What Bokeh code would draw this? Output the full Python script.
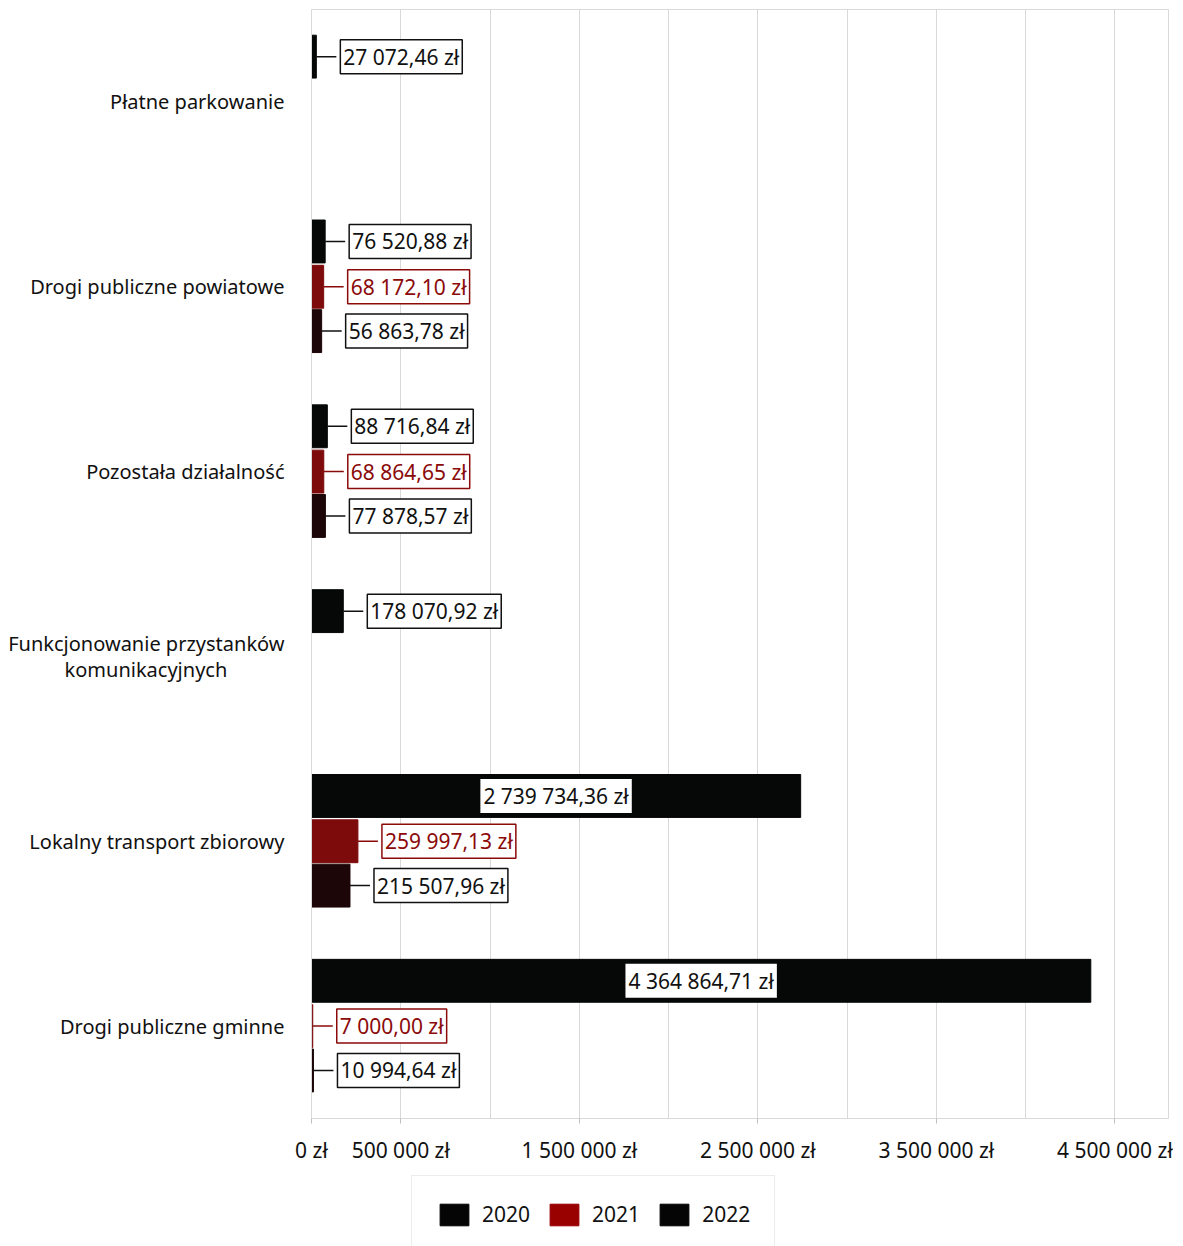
from bokeh.plotting import figure
from bokeh.layouts import column
from bokeh.models import ColumnDataSource, FactorRange, Range1d, FixedTicker, Legend, LegendItem
from bokeh.transform import dodge
from bokeh.core.properties import value
from bokeh.embed import file_html
from bokeh.resources import INLINE

# ---- data ----
NB = "\u00a0"
categories = [
    "Płatne parkowanie",
    "Drogi publiczne powiatowe",
    "Pozostała działalność",
    "Funkcjonowanie przystanków\nkomunikacyjnych" + NB * 11,
    "Lokalny transport zbiorowy",
    "Drogi publiczne gminne",
]
years = ["2020", "2021", "2022"]
values_2020 = [None, 56863.78, 77878.57, None, 215507.96, 10994.64]
values_2021 = [None, 68172.10, 68864.65, None, 259997.13, 7000.00]
values_2022 = [27072.46, 76520.88, 88716.84, 178070.92, 2739734.36, 4364864.71]
tick_values = [0, 500000, 1500000, 2500000, 3500000, 4500000]
tick_labels = ["0 zł", "500 000 zł", "1 500 000 zł", "2 500 000 zł", "3 500 000 zł", "4 500 000 zł"]
grid_values = [0, 500000, 1000000, 1500000, 2000000, 2500000, 3000000, 3500000, 4000000, 4500000]
x_max = 4800000

# ---- style ----
FONT = "Noto Sans"
bar_colors = {"2020": "#1c0607", "2021": "#7e0b0b", "2022": "#050806"}
legend_colors = {"2020": "#050505", "2021": "#990000", "2022": "#050505"}
text_colors = {"2020": "#111111", "2021": "#8b0a0a", "2022": "#111111"}
offsets = {"2020": -0.24, "2021": 0.0, "2022": 0.245}
bar_h = 0.232
frame_w = 857
frame_h = 1109
gap_px = 20
gap_data = gap_px * x_max / frame_w


def fmt(v):
    s = f"{v:,.2f}".replace(",", " ").replace(".", ",")
    return s + " zł"


p = figure(
    frame_width=frame_w, frame_height=frame_h,
    y_range=FactorRange(factors=list(reversed(categories))),
    x_range=Range1d(0, x_max),
    output_backend="svg", toolbar_location=None,
    min_border_left=311, min_border_right=5, min_border_top=9, min_border_bottom=0,
)
p.outline_line_color = "#d9d9d9"
p.ygrid.grid_line_color = None
p.xgrid.ticker = FixedTicker(ticks=grid_values)
p.xgrid.grid_line_color = "#d9d9d9"

xa = p.xaxis[0]
xa.ticker = FixedTicker(ticks=tick_values)
xa.major_label_overrides = {v: l for v, l in zip(tick_values, tick_labels)}
xa.major_label_text_font = FONT
xa.major_label_text_font_size = "21px"
xa.major_label_text_color = "#111111"
xa.axis_line_color = "#d9d9d9"
xa.major_tick_line_color = "#bfbfbf"
xa.major_tick_in = 0
xa.major_tick_out = 5
xa.minor_tick_line_color = None
xa.major_label_standoff = 12

ya = p.yaxis[0]
ya.major_label_text_font = FONT
ya.major_label_text_font_size = "20px"
ya.major_label_text_color = "#111111"
ya.major_label_text_line_height = 0.95
ya.axis_line_color = "#d9d9d9"
ya.major_tick_line_color = None
ya.minor_tick_line_color = None
ya.major_label_standoff = 21

series = {"2020": values_2020, "2021": values_2021, "2022": values_2022}
for yr in years:
    vals = series[yr]
    cats = [c for c, v in zip(categories, vals) if v is not None]
    vs = [v for v in vals if v is not None]
    src = ColumnDataSource(dict(cat=cats, v=vs))
    ydod = dodge("cat", offsets[yr], range=p.y_range)
    p.hbar(y=ydod, left=0, right="v", height=bar_h, source=src,
           fill_color=bar_colors[yr], line_color=bar_colors[yr])

    # outside labels (small bars) with leader lines
    out_c = [c for c, v in zip(cats, vs) if v < 1000000]
    out_v = [v for v in vs if v < 1000000]
    osrc = ColumnDataSource(dict(cat=out_c, v=out_v,
                                 lx=[v + gap_data for v in out_v],
                                 label=[fmt(v) for v in out_v]))
    p.segment(x0="v", y0=ydod, x1="lx", y1=ydod, source=osrc,
              line_color=text_colors[yr], line_width=1.5)
    p.text(x="lx", y=ydod, text="label", source=osrc, x_offset=4,
           text_align="left", text_baseline="middle",
           text_font=value(FONT), text_font_size="21px", text_color=text_colors[yr],
           background_fill_color="white", border_line_color=text_colors[yr],
           border_line_width=1.5, padding=3)

    # inside labels (large bars), centred in bar
    in_c = [c for c, v in zip(cats, vs) if v >= 1000000]
    in_v = [v for v in vs if v >= 1000000]
    isrc = ColumnDataSource(dict(cat=in_c, lx=[v / 2 for v in in_v],
                                 label=[fmt(v) for v in in_v]))
    p.text(x="lx", y=ydod, text="label", source=isrc,
           text_align="center", text_baseline="middle",
           text_font=value(FONT), text_font_size="21px", text_color=text_colors[yr],
           background_fill_color="white", border_line_color=None, padding=3)

# ---- legend panel (separate figure below the chart) ----
leg_h = 150
q = figure(frame_width=frame_w, frame_height=leg_h, x_range=Range1d(0, 1), y_range=Range1d(0, 1),
           output_backend="svg", toolbar_location=None,
           x_axis_location=None, y_axis_location=None,
           min_border_left=311, min_border_right=5, min_border_top=0, min_border_bottom=0)
q.outline_line_color = None
q.xgrid.grid_line_color = None
q.ygrid.grid_line_color = None
items = []
for yr in years:
    # swatch-only renderer placed outside the visible range
    r = q.hbar(y=[-10], left=[0], right=[1], height=0.1,
               fill_color=legend_colors[yr], line_color=legend_colors[yr])
    items.append(LegendItem(label=yr, renderers=[r]))
legend = Legend(items=items, orientation="horizontal", location=(100, leg_h - 10 - 77),
                glyph_width=36, glyph_height=27, label_text_font=FONT,
                label_text_font_size="21px", label_text_color="#111111",
                label_standoff=10, spacing=16, padding=24, margin=0,
                border_line_color="#d9d9d9", background_fill_color="white")
q.add_layout(legend)

layout = column(p, q, spacing=0)
open("out.html", "w").write(file_html(layout, INLINE))
